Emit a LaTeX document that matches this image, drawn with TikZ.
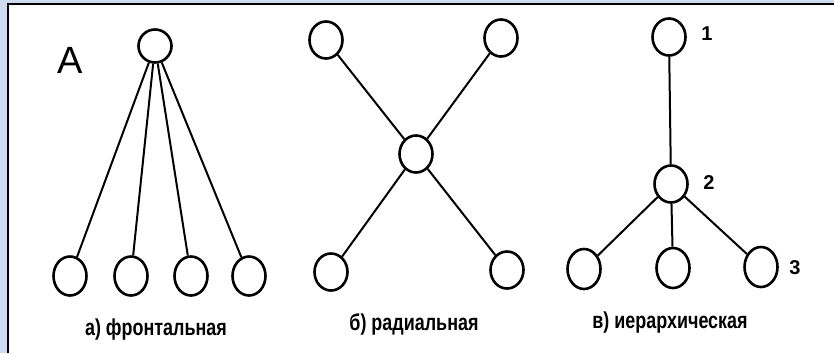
\documentclass[tikz,border=0pt]{standalone}
\usepackage{fontspec}
\setmainfont{Liberation Sans}
\newfontfamily\capfont[FakeStretch=0.78]{Liberation Sans}
\usetikzlibrary{shapes.geometric}
\definecolor{band}{RGB}{205,218,240}
\tikzset{
  nd/.style={ellipse, draw, line width=2.6pt, minimum width=33pt, minimum height=37pt, inner sep=0pt},
  ln/.style={line width=2pt},
  captxt/.style={font=\capfont\bfseries\fontsize{23}{24}\selectfont, inner sep=0pt, anchor=base},
  numtxt/.style={font=\bfseries\fontsize{20}{20}\selectfont, inner sep=0pt}
}
\begin{document}
\begin{tikzpicture}[x=1pt, y=-1pt]
\useasboundingbox (0,0) rectangle (834,353);
\fill[band] (0,0) rectangle (834,353);
\fill[white] (8,4) rectangle (834,353);
\draw[line width=2pt] (8,353) -- (8,4) -- (834,4);
% panel a
\node[font=\fontsize{38}{38}\selectfont, inner sep=0pt, anchor=base] (A) at (70,73) {A};
\node[nd, minimum height=33pt] (a0) at (155,46) {};
\node[nd, minimum height=39pt] (a1) at (70,276) {};
\node[nd, minimum height=39pt] (a2) at (131,276) {};
\node[nd, minimum height=39pt] (a3) at (191,276) {};
\node[nd, minimum height=39pt] (a4) at (249,276) {};
\foreach \i in {1,...,4} \draw[ln] (a0) -- (a\i);
\node[captxt] (la) at (156,335) {а) фронтальная};
% panel b
\node[nd] (bc) at (416,154) {};
\node[nd] (b1) at (326,40) {};
\node[nd] (b2) at (501,38) {};
\node[nd] (b3) at (331,272) {};
\node[nd] (b4) at (507,270) {};
\foreach \i in {1,...,4} \draw[ln] (bc) -- (b\i);
\node[captxt] (lb) at (414,330) {б) радиальная};
% panel c
\node[nd] (c1) at (669,37) {};
\node[nd] (c2) at (671,184) {};
\node[nd, minimum height=40pt] (c3) at (584,269) {};
\node[nd, minimum height=40pt] (c4) at (673,268) {};
\node[nd, minimum height=40pt] (c5) at (761,267) {};
\draw[ln] (c1) -- (c2);
\foreach \i in {3,4,5} \draw[ln] (c2) -- (c\i);
\node[numtxt] (n1) at (707,34) {1};
\node[numtxt] (n2) at (709,183) {2};
\node[numtxt] (n3) at (795,268) {3};
\node[captxt] (lc) at (670,328) {в) иерархическая};
\end{tikzpicture}
\end{document}
